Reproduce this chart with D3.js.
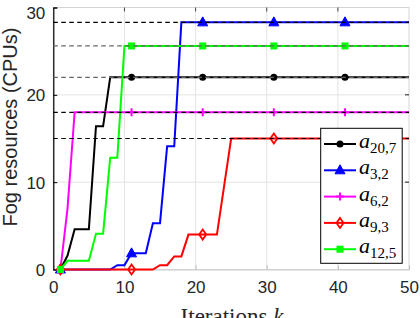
<!DOCTYPE html>
<html><head><meta charset="utf-8">
<script src="https://cdn.jsdelivr.net/npm/d3@7"></script>
<style>body{margin:0;background:#fff;}svg{display:block;}</style>
</head><body>
<svg id="c" width="420" height="318"></svg>
<script>
const iterations = [1,2,3,4,5,6,7,8,9,10,11,12,13,14,15,16,17,18,19,20,21,22,23,24,25,26,27,28,29,30,31,32,33,34,35,36,37,38,39,40,41,42,43,44,45,46,47,48,49,50];
const a20_7 = [0,1.6,4.6,4.6,4.6,16.4,16.4,22,22,22,22,22,22,22,22,22,22,22,22,22,22,22,22,22,22,22,22,22,22,22,22,22,22,22,22,22,22,22,22,22,22,22,22,22,22,22,22,22,22,22];
const a3_2 = [0,0,0,0,0,0,0,0,0.5,0.5,1.85,1.85,1.85,5.3,5.3,14.1,14.1,28.3,28.3,28.3,28.3,28.3,28.3,28.3,28.3,28.3,28.3,28.3,28.3,28.3,28.3,28.3,28.3,28.3,28.3,28.3,28.3,28.3,28.3,28.3,28.3,28.3,28.3,28.3,28.3,28.3,28.3,28.3,28.3,28.3];
const a6_2 = [0,7,18,18,18,18,18,18,18,18,18,18,18,18,18,18,18,18,18,18,18,18,18,18,18,18,18,18,18,18,18,18,18,18,18,18,18,18,18,18,18,18,18,18,18,18,18,18,18,18];
const a9_3 = [0,0,0,0,0,0,0,0,0,0,0,0,0,0,0.5,0.5,1.5,1.5,4,4,4,4,4,9.5,15,15,15,15,15,15,15,15,15,15,15,15,15,15,15,15,15,15,15,15,15,15,15,15,15,15];
const a12_5 = [0,1,1,1,1,4.1,4.1,12.8,12.8,25.6,25.6,25.6,25.6,25.6,25.6,25.6,25.6,25.6,25.6,25.6,25.6,25.6,25.6,25.6,25.6,25.6,25.6,25.6,25.6,25.6,25.6,25.6,25.6,25.6,25.6,25.6,25.6,25.6,25.6,25.6,25.6,25.6,25.6,25.6,25.6,25.6,25.6,25.6,25.6,25.6];
const seriesNames = [["20,7"],["3,2"],["6,2"],["9,3"],["12,5"]];
const seriesColors = ["#000000","#0000ff","#ff00ff","#ff0000","#00ff00"];
const seriesMarkers = ["circle","triangle","plus","diamond","square"];
const markerIters = [1,11,21,31,41];
const finalLevels = [28.3,25.6,22,18,15];
const finalLevelColors = ["#000","#666","#666","#000","#000"];
const xTicks = [0,10,20,30,40,50];
const yTicks = [0,10,20,30];

const allSeries = [a20_7,a3_2,a6_2,a9_3,a12_5];
const svg = d3.select("#c");
const L=53.3, R=409, T=7.5, B=269.5;
const x = d3.scaleLinear().domain([0,50]).range([L,R]);
const y = d3.scaleLinear().domain([0,30]).range([B,T]);

// grid
const g = svg.append("g");
g.selectAll(".gx").data(xTicks.slice(1,-1)).enter().append("line")
  .attr("x1",d=>x(d)).attr("x2",d=>x(d)).attr("y1",T).attr("y2",B)
  .attr("stroke","#e3e3e3").attr("stroke-width",1);
g.selectAll(".gy").data(yTicks.slice(1,-1)).enter().append("line")
  .attr("y1",d=>y(d)).attr("y2",d=>y(d)).attr("x1",L).attr("x2",R)
  .attr("stroke","#e3e3e3").attr("stroke-width",1);
// box
svg.append("rect").attr("x",L).attr("y",T).attr("width",R-L).attr("height",B-T)
  .attr("fill","none").attr("stroke","#d4d4d4").attr("stroke-width",1);

// axes
const xAxis = d3.axisBottom(x).tickValues(xTicks).tickSize(-4).tickPadding(8).tickFormat(d3.format("d"));
const xa = svg.append("g").attr("transform",`translate(0,${B})`).call(xAxis);
xa.select(".domain").attr("stroke","#cfcfcf");
xa.selectAll(".tick line").attr("stroke","#bbb");
xa.selectAll("text").attr("font-family","Liberation Sans, Arial, sans-serif").attr("font-size",17).attr("fill","#262626").attr("dy","0.9em");
const yAxis = d3.axisLeft(y).tickValues(yTicks).tickSize(-4).tickPadding(8).tickFormat(d3.format("d"));
const ya = svg.append("g").attr("transform",`translate(${L},0)`).call(yAxis);
ya.select(".domain").attr("stroke","#000").attr("stroke-width",1.2);
ya.selectAll(".tick line").attr("stroke","#000");
ya.selectAll("text").attr("font-family","Liberation Sans, Arial, sans-serif").attr("font-size",17).attr("fill","#262626")
  .attr("dy",d=>d===30?"0.62em":"0.36em");
// right & top ticks
svg.append("g").selectAll("line").data(yTicks.slice(1,-1)).enter().append("line")
  .attr("x1",R).attr("x2",R-4).attr("y1",d=>y(d)).attr("y2",d=>y(d)).attr("stroke","#222");
svg.append("g").selectAll("line").data(xTicks.slice(1,-1)).enter().append("line")
  .attr("y1",T).attr("y2",T+4).attr("x1",d=>x(d)).attr("x2",d=>x(d)).attr("stroke","#444");

// markers
function drawMarker(sel, type, color){
  if(type==="circle") sel.append("circle").attr("r",3.5).attr("fill",color);
  else if(type==="triangle") sel.append("path").attr("d","M0,-5.5L5,3.5L-5,3.5Z").attr("fill",color).attr("stroke",color).attr("stroke-width",1);
  else if(type==="plus") sel.append("path").attr("d","M-4,0H4M0,-4V4").attr("stroke",color).attr("stroke-width",2).attr("fill","none");
  else if(type==="diamond") sel.append("path").attr("d","M0,-5L3.5,0L0,5L-3.5,0Z").attr("fill","none").attr("stroke",color).attr("stroke-width",1.8);
  else if(type==="square") sel.append("rect").attr("x",-3.5).attr("y",-3.5).attr("width",7).attr("height",7).attr("fill",color);
}

const line = d3.line().x(d=>x(d[0])).y(d=>y(d[1]));
allSeries.forEach((vals,i)=>{
  const pts = iterations.map((k,j)=>[k,vals[j]]);
  svg.append("path").attr("d",line(pts)).attr("fill","none").attr("stroke",seriesColors[i]).attr("stroke-width",2).attr("stroke-linejoin","miter");
  markerIters.forEach(k=>{
    const j = iterations.indexOf(k);
    const m = svg.append("g").attr("transform",`translate(${x(k)},${y(vals[j])})`);
    drawMarker(m, seriesMarkers[i], seriesColors[i]);
  });
});

// dashed levels
svg.append("g").selectAll("line").data(finalLevels).enter().append("line")
  .attr("x1",L).attr("x2",R).attr("y1",d=>y(d)).attr("y2",d=>y(d))
  .attr("stroke",(d,i)=>finalLevelColors[i]).attr("stroke-width",1.2).attr("stroke-dasharray","4.5,3.5");

// legend
const lg = svg.append("g");
const lx=320.7, ly=128.3, lw=81.5, lh=135;
lg.append("rect").attr("x",lx).attr("y",ly).attr("width",lw).attr("height",lh).attr("fill","#fff").attr("stroke","#000").attr("stroke-width",1);
seriesNames.forEach((nm,i)=>{
  const cy = 144 + i*26.3;
  lg.append("line").attr("x1",324).attr("x2",356).attr("y1",cy).attr("y2",cy).attr("stroke",seriesColors[i]).attr("stroke-width",2);
  const m = lg.append("g").attr("transform",`translate(340,${cy})`);
  drawMarker(m, seriesMarkers[i], seriesColors[i]);
  const t = lg.append("text").attr("x",359).attr("y",cy+4).attr("font-family","Liberation Serif, Times New Roman, serif").attr("fill","#000");
  t.append("tspan").attr("font-style","italic").attr("font-size",22).text("a");
  t.append("tspan").attr("font-size",15).attr("dy",5).text(nm[0]);
});

// axis titles
svg.append("text").attr("transform","translate(17,127) rotate(-90)").attr("text-anchor","middle")
  .attr("font-family","Liberation Sans, Arial, sans-serif").attr("font-size",20).attr("fill","#262626")
  .text("Fog resources (CPUs)");
const xl = svg.append("text").attr("x",232).attr("y",324).attr("text-anchor","middle")
  .attr("font-family","Liberation Serif, Times New Roman, serif").attr("font-size",23).attr("fill","#262626");
xl.append("tspan").text("Iterations ");
xl.append("tspan").attr("font-style","italic").text("k");
</script>
</body></html>
